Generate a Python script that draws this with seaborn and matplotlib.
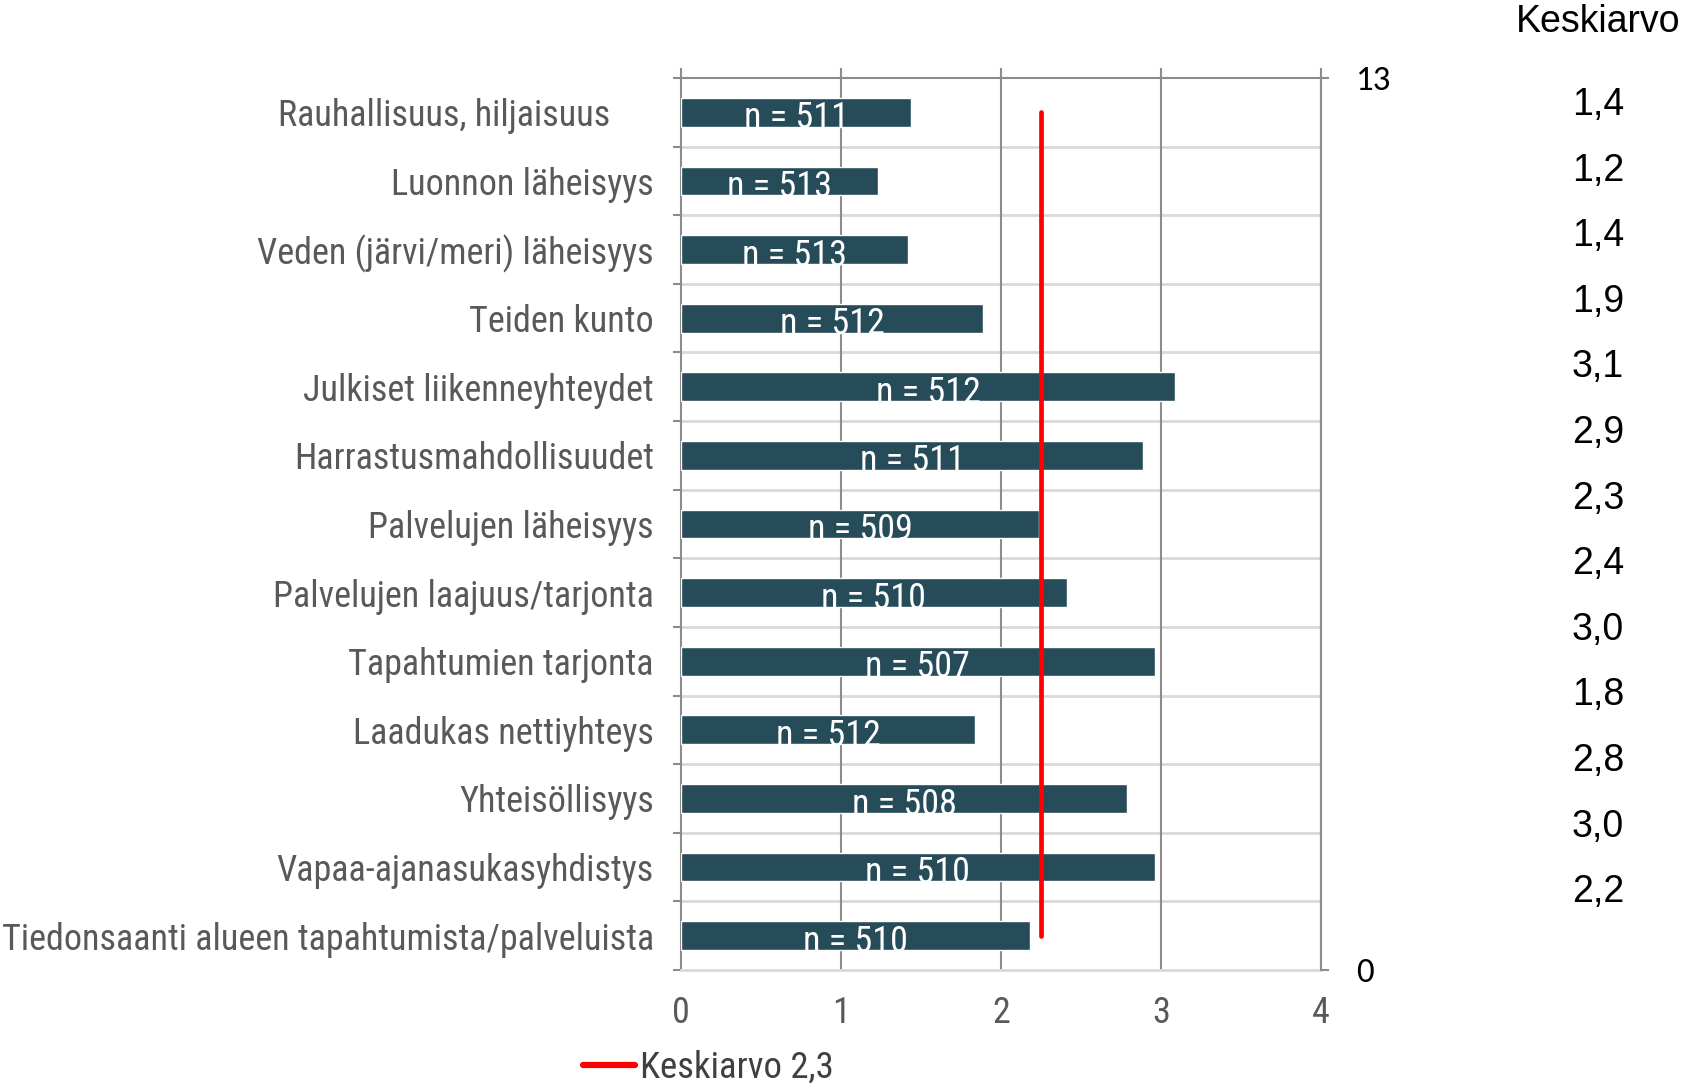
import numpy as np
import pandas as pd
import matplotlib
matplotlib.use("Agg")
import matplotlib.pyplot as plt
import seaborn as sns
from matplotlib.transforms import ScaledTranslation

# ---------------------------- data ----------------------------
categories = [
    "Rauhallisuus, hiljaisuus",
    "Luonnon läheisyys",
    "Veden (järvi/meri) läheisyys",
    "Teiden kunto",
    "Julkiset liikenneyhteydet",
    "Harrastusmahdollisuudet",
    "Palvelujen läheisyys",
    "Palvelujen laajuus/tarjonta",
    "Tapahtumien tarjonta",
    "Laadukas nettiyhteys",
    "Yhteisöllisyys",
    "Vapaa-ajanasukasyhdistys",
    "Tiedonsaanti alueen tapahtumista/palveluista",
]
means = [1.44, 1.23, 1.42, 1.89, 3.09, 2.89, 2.24, 2.41, 2.96, 1.84, 2.79, 2.96, 2.18]
n_counts = [511, 513, 513, 512, 512, 511, 509, 510, 507, 512, 508, 510, 510]
mean_column = ["1,4", "1,2", "1,4", "1,9", "3,1", "2,9", "2,3",
               "2,4", "3,0", "1,8", "2,8", "3,0", "2,2"]
overall_mean = 2.25
overall_label = "Keskiarvo 2,3"
x_ticks = [0, 1, 2, 3, 4]
right_ticks = [0, 13]

# ---------------------------- style ----------------------------
sns.set_theme(style="white")
narrow = ["Roboto Condensed", "Liberation Sans", "DejaVu Sans"]
plt.rcParams["font.family"] = narrow

bar_color = "#264C5A"
grid_gray = "#8C8C8C"
light_gray = "#D9D9D9"
label_gray = "#595959"

W, H = 1685, 1088
fig = plt.figure(figsize=(W / 100, H / 100), dpi=100)
ax = fig.add_axes([681 / W, 1 - 970 / H, (1321 - 681) / W, (970 - 78) / H])

df = pd.DataFrame({"kohde": categories, "keskiarvo": means})
sns.barplot(data=df, x="keskiarvo", y="kohde", color=bar_color,
            saturation=1, width=0.42, ax=ax, zorder=3)

texts = ax.bar_label(ax.containers[0], labels=[f"n = {n}" for n in n_counts],
                     label_type="center", color="white", fontsize=26)
for t in texts:
    t.set_verticalalignment("center_baseline")
    t.xyann = (0, -1.5)

# red mean line
mean_line, = ax.plot([overall_mean, overall_mean], [0, len(categories) - 1],
                     color="#FF0000", lw=3.4, solid_capstyle="round",
                     label=overall_label, zorder=5)

ax.set_xlim(0, 4)
ax.set_ylim(len(categories) - 0.5, -0.5)
ax.set_xlabel("")
ax.set_ylabel("")

# grid and separators
for x in x_ticks[1:]:
    ax.axvline(x, color=grid_gray, lw=1.5, zorder=1)
for k in range(len(categories) - 1):
    ax.axhline(k + 0.5, color=light_gray, lw=2, zorder=0.5)

for side in ["left", "top", "right"]:
    ax.spines[side].set_color(grid_gray)
    ax.spines[side].set_linewidth(1.5)
ax.spines["bottom"].set_color(light_gray)
ax.spines["bottom"].set_linewidth(2)

ax.set_xticks(x_ticks)
ax.set_xticklabels([str(v) for v in x_ticks])
ax.tick_params(axis="x", bottom=False, top=True, labelbottom=True, labeltop=False,
               length=7, width=1.5, color=grid_gray, labelsize=26,
               labelcolor=label_gray, pad=11)

ax.set_yticks(np.arange(-0.5, len(categories) + 0.5), minor=True)
ax.tick_params(axis="y", which="minor", left=True, length=6, width=1.5, color=grid_gray)
ax.tick_params(axis="y", which="major", left=False, length=0,
               labelsize=26, labelcolor=label_gray, pad=19.5)

# secondary axis 0..13
ax2 = ax.twinx()
ax2.set_ylim(0, 13)
ax2.set_yticks(right_ticks)
ax2.set_yticklabels([str(v) for v in right_ticks])
ax2.tick_params(axis="y", right=True, length=6, width=1.5, color=grid_gray,
                labelsize=25, labelcolor="black", pad=19)
for t in ax2.get_yticklabels():
    t.set_fontfamily(["Carlito", "Lato", "DejaVu Sans"])
for side in ["left", "top", "bottom"]:
    ax2.spines[side].set_visible(False)
ax2.spines["right"].set_color(grid_gray)
ax2.spines["right"].set_linewidth(1.5)
ax2.grid(False)

# first label sits further left in the original
first = ax.get_yticklabels()[0]
first.set_transform(first.get_transform() + ScaledTranslation(-0.44, 0, fig.dpi_scale_trans))

# mean column on the right
plain = ["Liberation Sans", "DejaVu Sans"]
fig.text(1598 / W, 1 - 21.5 / H, "Keskiarvo", ha="center", va="center",
         fontsize=27, family=plain, color="black")
for i, val in enumerate(mean_column):
    fig.text(1598 / W, 1 - (105 + i * 65.6) / H, val, ha="center", va="center",
             fontsize=27, family=plain, color="black")

# legend
leg = fig.legend(handles=[mean_line], loc="center left",
                 bbox_to_anchor=(583 / W, 1 - 1068 / H), frameon=False,
                 fontsize=26.5, handlelength=1.4, handletextpad=0.15,
                 borderpad=0, borderaxespad=0, labelcolor="#404040")
leg.get_lines()[0].set_linewidth(4.5)

fig.savefig("out.png", dpi=100)
